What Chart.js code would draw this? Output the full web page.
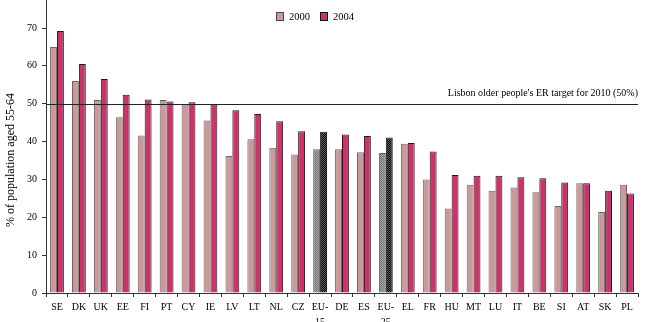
<!DOCTYPE html>
<html>
<head>
<meta charset="utf-8">
<script src="https://cdn.jsdelivr.net/npm/chart.js@4/dist/chart.umd.min.js"></script>
<style>
html,body{margin:0;padding:0;background:#fff;}
#wrap{width:648px;height:322px;position:relative;}
</style>
</head>
<body>
<div id="wrap"><canvas id="c" width="648" height="322"></canvas></div>
<script>
const categories = ['SE','DK','UK','EE','FI','PT','CY','IE','LV','LT','NL','CZ',['EU-','15'],'DE','ES',['EU-','25'],'EL','FR','HU','MT','LU','IT','BE','SI','AT','SK','PL'];
const values2000 = [65.0,56.0,51.0,46.4,41.6,51.0,49.8,45.6,36.2,40.6,38.4,36.6,38.0,38.0,37.2,37.0,39.4,30.0,22.3,28.6,27.0,27.9,26.6,23.0,29.0,21.4,28.6];
const values2004 = [69.2,60.5,56.5,52.4,51.1,50.6,50.4,49.8,48.3,47.3,45.4,42.7,42.6,41.9,41.5,41.1,39.6,37.4,31.2,31.0,31.0,30.6,30.3,29.2,29.0,27.0,26.3];
const seriesNames = ['2000','2004'];
const targetValue = 50;
const targetLabel = "Lisbon older people's ER target for 2010 (50%)";
const yTicks = [0,10,20,30,40,50,60,70];
const yTitle = '% of population aged 55-64';

const canvas = document.getElementById('c');
const ctx0 = canvas.getContext('2d');
function makePattern(bg, fg){
  const p = document.createElement('canvas');
  p.width = 2; p.height = 2;
  const g = p.getContext('2d');
  g.fillStyle = bg; g.fillRect(0,0,2,2);
  g.fillStyle = fg; g.fillRect(0,0,1,1); g.fillRect(1,1,1,1);
  return ctx0.createPattern(p,'repeat');
}
const c2000 = '#CC9999', c2004 = '#CC3366';
const pat2000 = makePattern('#a0a0a0','#7a7a7a');
const pat2004 = makePattern('#111111','#555555');
const isEU = categories.map(c => Array.isArray(c));
const bg2000 = isEU.map(e => e ? pat2000 : c2000);
const bg2004 = isEU.map(e => e ? pat2004 : c2004);

const serif = "'Liberation Serif','DejaVu Serif',serif";

const overlay = {
  id:'overlay',
  afterDatasetsDraw(chart){
    const {ctx, chartArea, scales} = chart;
    const y = scales.y.getPixelForValue(targetValue);
    ctx.save();
    ctx.strokeStyle = '#222';
    ctx.lineWidth = 1;
    ctx.beginPath();
    ctx.moveTo(chartArea.left, Math.round(y)+0.5);
    ctx.lineTo(chartArea.right, Math.round(y)+0.5);
    ctx.stroke();
    ctx.fillStyle = '#000';
    ctx.font = "10px " + serif;
    ctx.textAlign = 'right';
    ctx.textBaseline = 'middle';
    ctx.fillText(targetLabel, chartArea.right, y - 10);
    // legend
    const items = [{t:seriesNames[0], c:c2000, b:'#444'},{t:seriesNames[1], c:c2004, b:'#111'}];
    let x = 276;
    ctx.textAlign = 'left';
    ctx.font = "10.5px " + serif;
    items.forEach(it => {
      ctx.fillStyle = it.c;
      ctx.fillRect(x, 12.5, 8, 8);
      ctx.strokeStyle = it.b;
      ctx.strokeRect(x+0.5, 12.5, 7, 8);
      ctx.fillStyle = '#000';
      ctx.fillText(it.t, x + 13, 17);
      x += 44;
    });
    // y title
    ctx.save();
    ctx.translate(11, 160);
    ctx.rotate(-Math.PI/2);
    ctx.textAlign = 'center';
    ctx.textBaseline = 'middle';
    ctx.font = "12px " + serif;
    ctx.fillText(yTitle, 0, 0);
    ctx.restore();
    ctx.restore();
  }
};

new Chart(canvas, {
  type:'bar',
  data:{
    labels: categories,
    datasets:[
      {label:seriesNames[0], data:values2000, backgroundColor:bg2000, borderColor:'#666', borderWidth:1, barPercentage:1, categoryPercentage:0.63},
      {label:seriesNames[1], data:values2004, backgroundColor:bg2004, borderColor:'#1a1a2a', borderWidth:1, barPercentage:1, categoryPercentage:0.63}
    ]
  },
  options:{
    responsive:false,
    animation:false,
    devicePixelRatio:1,
    layout:{padding:{top:0,right:10,left:0,bottom:0}},
    plugins:{legend:{display:false}, tooltip:{enabled:false}, title:{display:false}},
    scales:{
      x:{
        grid:{display:true, drawOnChartArea:false, color:'#333', tickLength:4, offset:true},
        border:{color:'#333'},
        ticks:{font:{family:serif, size:10, lineHeight:1.5}, color:'#000', padding:3, maxRotation:0, autoSkip:false},
        afterFit(s){ s.height = 29; s.paddingLeft = 0; s.paddingRight = 0; }
      },
      y:{
        min:0, max:77.4,
        grid:{display:true, drawOnChartArea:false, color:'#333', tickLength:4},
        border:{color:'#333'},
        ticks:{font:{family:serif, size:10}, color:'#000', padding:5, stepSize:10, includeBounds:false},
        afterBuildTicks(s){ s.ticks = yTicks.map(v => ({value:v})); },
        afterFit(s){ s.width = 46; s.paddingTop = 0; s.paddingBottom = 0; }
      }
    }
  },
  plugins:[overlay]
});
</script>
</body>
</html>
